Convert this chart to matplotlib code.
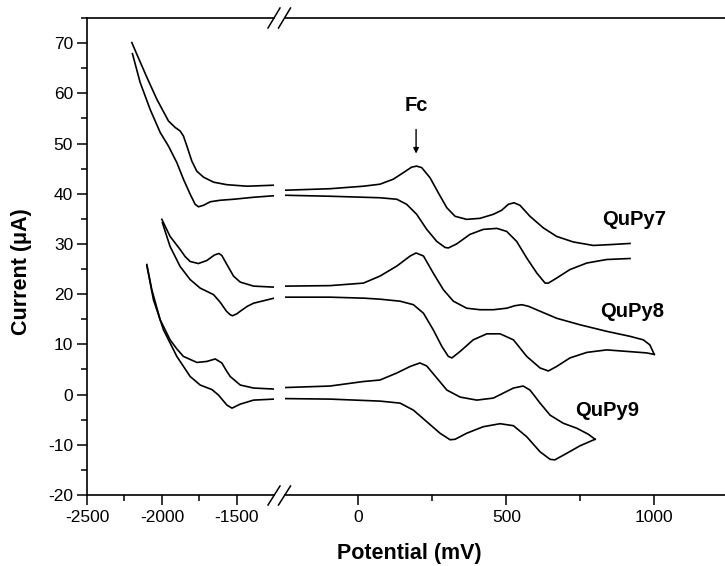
import matplotlib.pyplot as plt
from matplotlib.lines import Line2D
from matplotlib.ticker import MultipleLocator, FixedLocator

plt.rcParams['font.family'] = ['Liberation Sans', 'DejaVu Sans']
plt.rcParams['axes.unicode_minus'] = False

# Potential (mV) and current (uA)
# each scan: upper branch and lower branch, left part and right part of the broken axis together
q7_up_x = [-2201, -2168, -2101, -2034, -1957, -1912, -1879, -1857, -1834, -1801, -1768, -1723, -1656, -1567, -1433, -1253,
           -248, -96, 17, 73, 118, 152, 180, 197, 214, 242, 270, 299, 327, 366, 411, 456, 484, 507, 526, 546,
           580, 625, 670, 726, 794, 861, 918]
q7_up_y = [70.1, 67.8, 63.2, 58.8, 54.5, 53.2, 52.5, 51.5, 49.5, 46.5, 44.5, 43.3, 42.3, 41.8, 41.5, 41.7,
           40.7, 41.0, 41.5, 41.9, 42.9, 44.2, 45.3, 45.5, 45.2, 43.2, 40.2, 37.2, 35.5, 34.9, 35.1, 35.9, 36.7, 37.9, 38.2, 37.7,
           35.5, 33.2, 31.5, 30.4, 29.7, 29.9, 30.1]
q7_dn_x = [-2197, -2146, -2079, -2012, -1957, -1901, -1857, -1812, -1779, -1757, -1723, -1678, -1612, -1523, -1389, -1253,
           -248, -96, 73, 130, 163, 197, 231, 265, 293, 304, 332, 377, 422, 468, 501, 535, 569, 603, 631, 642,
           670, 715, 772, 839, 918]
q7_dn_y = [67.9, 62.2, 56.8, 52.2, 49.5, 46.2, 42.9, 39.9, 37.9, 37.4, 37.7, 38.4, 38.7, 38.9, 39.3, 39.6,
           39.7, 39.5, 39.2, 38.9, 37.9, 35.9, 32.9, 30.5, 29.3, 29.2, 30.0, 31.9, 32.9, 33.1, 32.5, 30.5, 27.2, 24.2, 22.2, 22.2,
           23.2, 24.9, 26.2, 26.9, 27.1]

q8_up_x = [-2001, -1946, -1879, -1846, -1812, -1757, -1701, -1650, -1620, -1601, -1567, -1523, -1478, -1389, -1253,
           -248, -96, 17, 73, 130, 175, 195, 220, 253, 287, 321, 366, 411, 456, 501, 529, 552, 574, 614,
           670, 749, 839, 918, 963, 985, 1000]
q8_up_y = [34.9, 31.5, 28.9, 27.5, 26.5, 26.1, 26.7, 27.8, 28.1, 27.7, 25.9, 23.6, 22.4, 21.6, 21.4,
           21.6, 21.7, 22.2, 23.6, 25.6, 27.6, 28.2, 27.6, 24.2, 20.9, 18.6, 17.2, 16.9, 16.9, 17.2, 17.7, 17.9, 17.6, 16.6,
           15.2, 13.9, 12.6, 11.6, 10.9, 9.9, 8.0]
q8_dn_x = [-1997, -1946, -1879, -1812, -1745, -1690, -1656, -1612, -1570, -1545, -1529, -1500, -1478, -1430, -1389, -1253,
           -248, -96, 20, 73, 141, 186, 220, 253, 282, 304, 316, 344, 388, 434, 479, 524, 569, 614, 642,
           670, 715, 772, 839, 907, 974, 1000]
q8_dn_y = [34.2, 29.5, 25.5, 22.9, 21.2, 20.4, 19.9, 18.4, 16.6, 15.9, 15.7, 16.1, 16.6, 17.6, 18.2, 19.2,
           19.4, 19.4, 19.2, 19.0, 18.6, 17.9, 16.2, 12.9, 9.6, 7.6, 7.3, 8.6, 10.9, 12.1, 12.1, 10.9, 7.6, 5.3, 4.7,
           5.6, 7.3, 8.4, 8.9, 8.6, 8.3, 8.0]

q9_up_x = [-2101, -2068, -2012, -1946, -1901, -1857, -1767, -1701, -1667, -1645, -1601, -1567, -1545, -1478, -1389, -1253,
           -248, -96, 17, 73, 130, 175, 208, 231, 265, 299, 344, 400, 456, 490, 524, 557, 580, 614, 648,
           692, 738, 777, 800]
q9_up_y = [25.9, 20.9, 14.9, 10.9, 9.1, 7.6, 6.4, 6.6, 6.9, 7.1, 6.3, 4.6, 3.6, 1.9, 1.3, 1.1,
           1.4, 1.7, 2.6, 2.9, 4.3, 5.6, 6.3, 5.7, 3.3, 0.9, -0.5, -1.1, -0.7, 0.3, 1.3, 1.7, 0.9, -1.7, -4.1,
           -5.7, -6.7, -7.9, -8.9]
q9_dn_x = [-2101, -2057, -1990, -1901, -1812, -1745, -1667, -1623, -1567, -1533, -1478, -1389, -1253,
           -248, -96, 73, 141, 186, 231, 276, 310, 327, 366, 422, 479, 524, 569, 614, 648, 664,
           704, 749, 800]
q9_dn_y = [25.7, 18.9, 12.9, 7.6, 3.6, 1.9, 1.0, -0.1, -2.1, -2.7, -1.9, -1.1, -0.9,
           -0.8, -0.9, -1.3, -1.7, -3.1, -5.4, -7.7, -9.0, -8.9, -7.7, -6.4, -5.8, -6.2, -8.4, -11.4, -12.9, -13.0,
           -11.7, -10.2, -8.9]

labels = ['QuPy7', 'QuPy8', 'QuPy9']
label_x = [933, 926, 840]
label_y = [34.8, 16.6, -3.1]

fig = plt.figure(figsize=(7.25, 5.66), dpi=100)

# broken x axis: two axes side by side, left one squeezed
ax1 = fig.add_axes([87/725, 71/566, 187/725, 477/566])
ax2 = fig.add_axes([285/725, 71/566, 440/725, 477/566])
ax1.set_xlim(-2500, -1253)
ax2.set_xlim(-248, 1239)
for ax in (ax1, ax2):
    ax.set_ylim(-20, 75)
    for xs, ys in [(q7_up_x, q7_up_y), (q7_dn_x, q7_dn_y),
                   (q8_up_x, q8_up_y), (q8_dn_x, q8_dn_y),
                   (q9_up_x, q9_up_y), (q9_dn_x, q9_dn_y)]:
        ax.plot(xs, ys, color='black', linewidth=1.2, solid_joinstyle='round')
    for sp in ax.spines.values():
        sp.set_linewidth(1.2)
    ax.spines['right'].set_visible(False)
    ax.tick_params(which='both', direction='out', top=False, right=False,
                   labelsize=12.5, width=1.1)
    ax.tick_params(which='major', length=7, pad=4)
    ax.tick_params(which='minor', length=4)

ax1.xaxis.set_major_locator(MultipleLocator(500))
ax1.xaxis.set_minor_locator(FixedLocator([-2250, -1750]))
ax1.yaxis.set_major_locator(MultipleLocator(10))
ax1.yaxis.set_minor_locator(MultipleLocator(5))
ax1.tick_params(axis='y', pad=3)

ax2.xaxis.set_major_locator(FixedLocator([0, 500, 1000]))
ax2.xaxis.set_minor_locator(FixedLocator([250, 750]))
ax2.spines['left'].set_visible(False)
ax2.tick_params(axis='y', which='both', left=False, labelleft=False)

# break marks "//" on bottom and top
for y0, y1 in [(505, 486), (28, 8)]:
    for dx in (0, 10.5):
        fig.add_artist(Line2D([(268 + dx)/725, (280 + dx)/725], [1 - y0/566, 1 - y1/566],
                              color='black', linewidth=1.1))

# annotations
ax2.text(195, 57.5, 'Fc', ha='center', va='center', fontsize=14.5, fontweight='bold')
ax2.annotate('', xy=(195, 48.0), xytext=(195, 52.8),
             arrowprops=dict(arrowstyle='-|>', color='black', lw=1, mutation_scale=8,
                             shrinkA=0, shrinkB=0))
for name, lx, ly in zip(labels, label_x, label_y):
    ax2.text(lx, ly, name, ha='center', va='center', fontsize=14.5, fontweight='bold')

fig.text(22/725, 1 - 272/566, 'Current (\u03bcA)', rotation=90, ha='center', va='center',
         fontsize=15.5, fontweight='bold')
fig.text(409/725, 1 - 553/566, 'Potential (mV)', ha='center', va='center',
         fontsize=15.5, fontweight='bold')

fig.savefig('out.png', dpi=100)
